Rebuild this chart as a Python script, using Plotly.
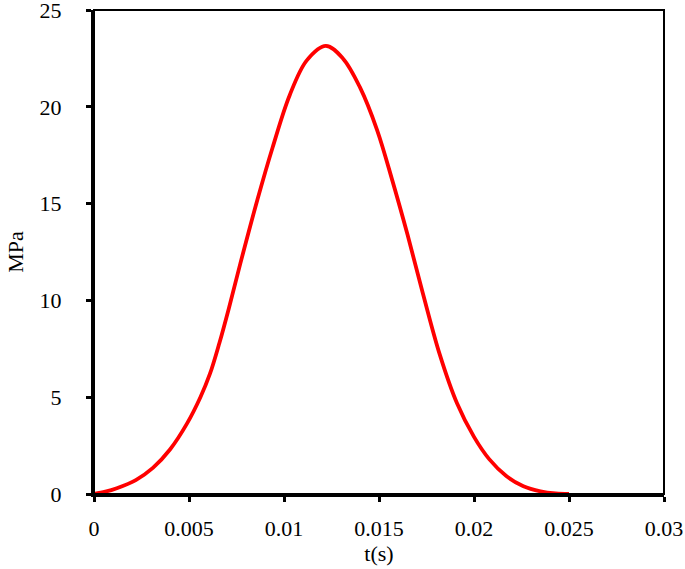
import plotly.graph_objects as go

# 그림에서 읽어낸 곡선 값 (t: 초, p: MPa)
t_s = [0.0, 0.0006, 0.0012, 0.0022, 0.0031, 0.004, 0.0049, 0.0056, 0.0061, 0.0066, 0.0071,
       0.0077, 0.0086, 0.0094, 0.0103, 0.0112, 0.0122, 0.0131, 0.014, 0.0149,
       0.0157, 0.0165, 0.0173, 0.0182, 0.0191, 0.02, 0.0208, 0.0217, 0.0226,
       0.0235, 0.0243, 0.025]
p_mpa = [0.0, 0.12, 0.3, 0.72, 1.35, 2.3, 3.65, 5.0, 6.2, 7.8, 9.6,
         11.9, 15.2, 17.9, 20.6, 22.4, 23.15, 22.5, 21.0, 18.8,
         16.2, 13.4, 10.4, 7.2, 4.7, 2.95, 1.8, 0.93, 0.4,
         0.14, 0.03, 0.0]

x_ticks = [0, 0.005, 0.01, 0.015, 0.02, 0.025, 0.03]
x_tick_labels = ["0", "0.005", "0.01", "0.015", "0.02", "0.025", "0.03"]
y_ticks = [0, 5, 10, 15, 20, 25]

font = "Liberation Serif, Times New Roman, serif"

fig = go.Figure()
fig.add_trace(go.Scatter(
    x=t_s, y=p_mpa, mode="lines",
    line={"color": "#ff0000", "width": 3.8, "shape": "spline", "smoothing": 1.0},
    showlegend=False,
))

axis_common = dict(
    showline=True, linecolor="black", linewidth=3,
    ticks="outside", ticklen=5, tickwidth=3, tickcolor="black",
    showgrid=False, zeroline=False, automargin=False,
    ticklabeloverflow="allow",
    tickfont={"family": font, "size": 22, "color": "black"},
)

fig.update_xaxes(
    range=[0, 0.03], tickvals=x_ticks, ticktext=x_tick_labels,
    ticklabelstandoff=8,
    title={"text": "t(s)", "font": {"family": font, "size": 22, "color": "black"}, "standoff": 3},
    **axis_common,
)
fig.update_yaxes(
    range=[0, 25], tickvals=y_ticks,
    ticklabelstandoff=20,
    title={"text": "MPa", "font": {"family": font, "size": 22, "color": "black"}, "standoff": 10},
    **axis_common,
)

# 위/오른쪽 테두리는 조금 얇게
fig.add_shape(type="rect", xref="paper", yref="paper", x0=0, y0=0, x1=1, y1=1,
              line={"color": "black", "width": 2}, layer="above")

fig.update_layout(
    width=685, height=569,
    margin={"l": 94, "r": 21, "t": 10, "b": 75},
    plot_bgcolor="white", paper_bgcolor="white",
)

# 브라우저 기본 body 여백(8px) 제거, 툴바 숨김
fig.write_html(
    "out.html",
    config={"displayModeBar": False},
    post_script="document.body.style.margin='0';",
)
